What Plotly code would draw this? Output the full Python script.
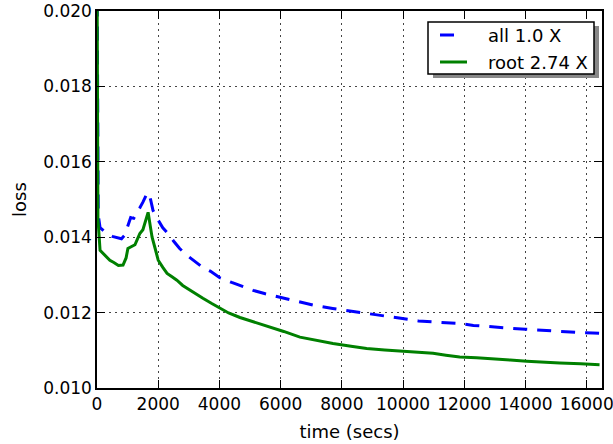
import plotly.graph_objects as go

# ---- data ----
all_t = [0, 40, 100, 200, 350, 500, 650, 800, 900, 1000, 1100, 1200, 1300, 1400, 1500,
         1600, 1680, 1750, 1830, 1920, 2000, 2150, 2320, 2500, 2700, 2940, 3200, 3450,
         3700, 4000, 4400, 4800, 5100, 5500, 6000, 6600, 7100, 7700, 8200, 8500, 9000,
         9350, 9800, 10100, 10500, 11000, 11500, 11850, 12300, 12700, 13100, 13600,
         14000, 14500, 15000, 15400, 15800, 16200, 16450]
all_loss = [0.0215, 0.0146, 0.01425, 0.01418, 0.01408, 0.01402, 0.01398, 0.01396, 0.01405,
            0.01430, 0.01452, 0.01450, 0.01463, 0.01478, 0.01493, 0.01510, 0.01518, 0.01500,
            0.01471, 0.01455, 0.01445, 0.01425, 0.01410, 0.01390, 0.01370, 0.01352, 0.01335,
            0.01320, 0.01310, 0.01293, 0.01280, 0.01268, 0.01259, 0.01250, 0.01240, 0.01228,
            0.01219, 0.01211, 0.01205, 0.01201, 0.01196, 0.01190, 0.01186, 0.01182, 0.01178,
            0.01175, 0.01173, 0.01171, 0.01166, 0.01163, 0.01161, 0.01158, 0.01156, 0.01153,
            0.01150, 0.01148, 0.01147, 0.01146, 0.01145]

root_t = [0, 30, 100, 250, 420, 550, 700, 850, 950, 1010, 1150, 1240, 1320, 1400, 1500,
          1580, 1670, 1740, 1800, 1900, 2000, 2150, 2290, 2450, 2610, 2800, 3040, 3250,
          3460, 3750, 4020, 4300, 4670, 5100, 5550, 6100, 6630, 7200, 7710, 8300, 8810,
          9400, 10020, 10500, 10980, 11400, 11850, 12400, 12940, 13500, 14040, 14600,
          15120, 15800, 16420]
root_loss = [0.0215, 0.0145, 0.01365, 0.01352, 0.01339, 0.01333, 0.01325, 0.01326, 0.01345,
             0.01370, 0.01375, 0.01380, 0.01395, 0.01410, 0.01420, 0.01440, 0.01466, 0.01430,
             0.01400, 0.01370, 0.01339, 0.01320, 0.01304, 0.01295, 0.01286, 0.01272, 0.01259,
             0.01248, 0.01238, 0.01224, 0.01211, 0.01199, 0.01187, 0.01176, 0.01166, 0.01150,
             0.01135, 0.01126, 0.01118, 0.01111, 0.01105, 0.01101, 0.01097, 0.01094, 0.01092,
             0.01087, 0.01082, 0.01080, 0.01078, 0.01074, 0.01071, 0.01068, 0.01066, 0.01064,
             0.01062]

series_names = ["all 1.0 X", "root 2.74 X"]
series_colors = ["#0000ff", "#008000"]
x_ticks = [0, 2000, 4000, 6000, 8000, 10000, 12000, 14000, 16000]
y_ticks = [0.010, 0.012, 0.014, 0.016, 0.018, 0.020]

FONT = "DejaVu Sans"
FS = 18
TICK_FS = 17
BLUE_DASH = "14px,10px"

fig = go.Figure()
fig.add_trace(go.Scatter(x=all_t, y=all_loss, mode="lines", name=series_names[0],
                         line=dict(color=series_colors[0], width=3, dash=BLUE_DASH)))
fig.add_trace(go.Scatter(x=root_t, y=root_loss, mode="lines", name=series_names[1],
                         line=dict(color=series_colors[1], width=3)))

axis_common = dict(
    showline=True, linecolor="black", linewidth=1.5, mirror="allticks",
    ticks="inside", ticklen=8, tickwidth=1, tickcolor="black",
    showgrid=True, gridcolor="#444444", gridwidth=1, griddash="2px,4px",
    zeroline=False, automargin=False, ticklabeloverflow="allow",
    tickfont=dict(family=FONT, size=TICK_FS, color="black"),
)

fig.update_xaxes(range=[0, 16500], tickvals=x_ticks, ticktext=[str(v) for v in x_ticks],
                 ticklabelstandoff=0,
                 title=dict(text="time (secs)", font=dict(family=FONT, size=FS, color="black"),
                            standoff=12),
                 **axis_common)
fig.update_yaxes(range=[0.010, 0.020], tickvals=y_ticks, tickformat=".3f",
                 ticklabelstandoff=0,
                 title=dict(text="loss", font=dict(family=FONT, size=FS, color="black"),
                            standoff=12),
                 **axis_common)

# ---- legend drawn manually (classic matplotlib look with shadow) ----
PL, PR, PT, PB = 97, 602, 11, 388
def px(x):
    return (x - PL) / (PR - PL)
def py(y):
    return (PB - y) / (PB - PT)

shapes = [
    dict(type="rect", xref="paper", yref="paper", x0=px(433), x1=px(599), y0=py(78), y1=py(26),
         fillcolor="#888888", line=dict(width=0), layer="above"),
    dict(type="rect", xref="paper", yref="paper", x0=px(428), x1=px(594), y0=py(74), y1=py(22),
         fillcolor="white", line=dict(color="black", width=1.5), layer="above"),
    dict(type="line", xref="paper", yref="paper", x0=px(440), x1=px(454), y0=py(35), y1=py(35),
         line=dict(color=series_colors[0], width=3), layer="above"),
    dict(type="line", xref="paper", yref="paper", x0=px(440), x1=px(467), y0=py(62), y1=py(62),
         line=dict(color=series_colors[1], width=3), layer="above"),
]
annotations = [
    dict(text=series_names[0], xref="paper", yref="paper", x=px(486), y=py(35),
         xanchor="left", yanchor="middle", showarrow=False,
         font=dict(family=FONT, size=FS, color="black")),
    dict(text=series_names[1], xref="paper", yref="paper", x=px(486), y=py(62),
         xanchor="left", yanchor="middle", showarrow=False,
         font=dict(family=FONT, size=FS, color="black")),
]

fig.update_layout(
    width=613, height=444,
    margin=dict(l=PL, r=613 - PR, t=PT, b=444 - PB),
    paper_bgcolor="white", plot_bgcolor="white",
    font=dict(family=FONT, size=FS, color="black"),
    showlegend=False,
    shapes=shapes,
    annotations=annotations,
)

fig.write_html("out.html", config={"displayModeBar": False},
               post_script="document.body.style.margin='0';document.body.style.padding='0';")
